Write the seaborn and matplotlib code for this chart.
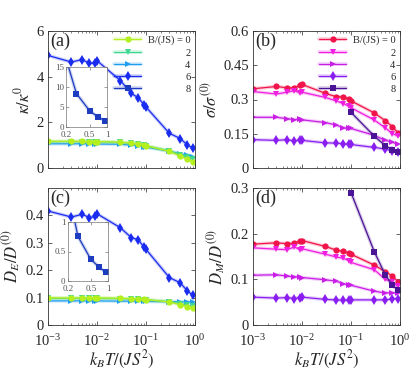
"""
    Transport coefficients vs temperature for several magnetic fields.
"""

import numpy as np
import pandas as pd
import matplotlib
matplotlib.use('Agg')
import matplotlib.pyplot as plt
import matplotlib.ticker as mtick
import matplotlib.patheffects as pe
import matplotlib.transforms as mtrans
from matplotlib.legend_handler import HandlerTuple
import seaborn as sns

# temperatures k_B T / (J S^2)
T = [1e-3, 3e-3, 5e-3, 7e-3, 9e-3, 1e-2, 3e-2, 5e-2, 7e-2, 9e-2, 1e-1, 0.3, 0.5, 0.7, 0.9]
T8 = [0.1, 0.3, 0.5, 0.7, 0.9]
fields = ['0', '2', '4', '6', '8']

# (a) kappa / kappa^0
kappa_b0 = [1.17, 1.17, 1.17, 1.16, 1.16, 1.16, 1.13, 1.09, 1.05, 1.00, 0.98, 0.73, 0.52, 0.38, 0.27]
kappa_b2 = [1.15, 1.16, 1.15, 1.15, 1.14, 1.15, 1.12, 1.08, 1.04, 1.00, 0.97, 0.75, 0.58, 0.50, 0.40]
kappa_b4 = [1.06, 1.06, 1.06, 1.06, 1.05, 1.05, 1.04, 1.00, 0.97, 0.93, 0.91, 0.74, 0.62, 0.56, 0.50]
kappa_b6 = [4.93, 4.64, 4.75, 4.58, 4.60, 4.70, 3.83, 3.27, 3.07, 2.78, 2.67, 1.52, 1.29, 1.01, 0.87]
kappa_b8 = [32.0, 8.3, 4.0, 2.4, 1.5]

# (b) sigma / sigma^(0)
sigma_b0 = [0.347, 0.357, 0.351, 0.351, 0.362, 0.366, 0.327, 0.312, 0.312, 0.302, 0.294, 0.241, 0.207, 0.181, 0.155]
sigma_b2 = [0.335, 0.324, 0.332, 0.339, 0.329, 0.332, 0.309, 0.294, 0.282, 0.271, 0.264, 0.210, 0.176, 0.151, 0.140]
sigma_b4 = [0.222, 0.222, 0.216, 0.211, 0.216, 0.211, 0.199, 0.188, 0.176, 0.173, 0.173, 0.143, 0.121, 0.113, 0.103]
sigma_b6 = [0.124, 0.121, 0.124, 0.118, 0.124, 0.121, 0.110, 0.109, 0.106, 0.103, 0.103, 0.090, 0.083, 0.075, 0.072]
sigma_b8 = [0.244, 0.139, 0.098, 0.080, 0.068]

# (c) D_E / D^(0)
de_b0 = [0.099, 0.099, 0.099, 0.099, 0.099, 0.099, 0.098, 0.096, 0.095, 0.094, 0.093, 0.084, 0.074, 0.067, 0.062]
de_b2 = [0.097, 0.097, 0.097, 0.097, 0.097, 0.097, 0.096, 0.095, 0.094, 0.093, 0.092, 0.085, 0.078, 0.072, 0.068]
de_b4 = [0.088, 0.088, 0.088, 0.088, 0.088, 0.088, 0.087, 0.087, 0.087, 0.087, 0.086, 0.085, 0.085, 0.084, 0.084]
de_b6 = [0.416, 0.394, 0.404, 0.392, 0.396, 0.406, 0.355, 0.319, 0.311, 0.285, 0.276, 0.173, 0.154, 0.124, 0.109]
de_b8 = [3.0, 0.76, 0.366, 0.229, 0.143]

# (d) D_M / D^(0)
dm_b0 = [0.177, 0.180, 0.178, 0.179, 0.183, 0.185, 0.172, 0.164, 0.161, 0.158, 0.155, 0.131, 0.117, 0.107, 0.095]
dm_b2 = [0.169, 0.166, 0.165, 0.171, 0.165, 0.167, 0.155, 0.149, 0.146, 0.141, 0.137, 0.121, 0.100, 0.094, 0.085]
dm_b4 = [0.109, 0.110, 0.107, 0.105, 0.106, 0.104, 0.099, 0.096, 0.090, 0.088, 0.087, 0.074, 0.070, 0.071, 0.069]
dm_b6 = [0.061, 0.059, 0.060, 0.058, 0.060, 0.061, 0.056, 0.055, 0.054, 0.054, 0.055, 0.055, 0.055, 0.057, 0.058]
dm_b8 = [0.290, 0.160, 0.110, 0.087, 0.077]

MARKERS = ['o', 'v', '>', 'd', 's']
MSIZES = [4.5, 4.8, 4.8, 5.2, 4.2]
COLORS_BLUE = ['#b4f01e', '#3fd890', '#1f9ef0', '#1a2cf0', '#1e3cc0']
COLORS_RED = ['#f0144a', '#f01ee0', '#c81ee6', '#8a1ef0', '#4b1496']

sns.set_theme(style="ticks")
plt.rcParams['font.family'] = ['Liberation Serif', 'DejaVu Serif']
plt.rcParams['mathtext.fontset'] = 'stix'
plt.rcParams['xtick.direction'] = 'in'
plt.rcParams['ytick.direction'] = 'in'
plt.rcParams['xtick.top'] = True
plt.rcParams['ytick.right'] = True
plt.rcParams['axes.edgecolor'] = '#333333'
plt.rcParams['axes.linewidth'] = 0.6


def to_long(x, series):
    rows = []
    for b, vals in zip(fields, series):
        for xi, yi in zip(x, vals):
            rows.append({'T': xi, 'val': yi, 'B': b})
    return pd.DataFrame(rows)


def draw_series(ax, df, colors, which):
    handles = {}
    for i in which:
        b = fields[i]
        sub = df[df['B'] == b]
        # line with a faint halo, then the markers on top
        sns.lineplot(data=sub, x='T', y='val', color=colors[i], linewidth=0.9,
                     estimator=None, sort=False, legend=False, ax=ax)
        ln = ax.lines[-1]
        ln.set_path_effects([pe.Stroke(linewidth=2.6, foreground=colors[i], alpha=0.22),
                             pe.Normal()])
        sns.lineplot(data=sub, x='T', y='val', color=colors[i], marker=MARKERS[i],
                     markersize=MSIZES[i], markeredgewidth=0, linewidth=0,
                     estimator=None, sort=False, legend=False, ax=ax)
        mk = ax.lines[-1]
        handles[i] = (ln, mk)
    return handles


def style_main(ax, ylim, yticks, ylabel, tag, show_x):
    ax.set_xscale('log')
    ax.set_xlim(1e-3, 1)
    ax.set_ylim(*ylim)
    ax.set_yticks(yticks)
    ax.yaxis.set_major_formatter(mtick.FormatStrFormatter('%g'))
    ax.xaxis.set_major_locator(mtick.LogLocator(base=10, numticks=10))
    ax.xaxis.set_minor_locator(mtick.LogLocator(base=10, subs=np.arange(2, 10), numticks=20))
    ax.xaxis.set_minor_formatter(mtick.NullFormatter())
    ax.tick_params(which='major', length=3, width=0.5, labelsize=10.5, pad=3)
    ax.tick_params(axis='x', which='major', pad=6)
    ax.tick_params(which='minor', length=1.5, width=0.4)
    ax.set_ylabel(ylabel, fontsize=12, labelpad=2)
    if show_x:
        ax.set_xlabel(r'$k_BT/(JS^2)$', fontsize=12, labelpad=0)
    else:
        ax.set_xlabel('')
        ax.tick_params(axis='x', which='both', labelbottom=False)
    ax.text(0.015, 0.985, tag, transform=ax.transAxes, ha='left', va='top', fontsize=13)


def style_inset(ax, ylim, yticks):
    ax.set_xscale('log')
    ax.set_xlim(0.2, 1)
    ax.set_ylim(*ylim)
    ax.set_xticks([0.2, 0.5, 1])
    ax.xaxis.set_major_formatter(mtick.FormatStrFormatter('%g'))
    ax.xaxis.set_minor_locator(mtick.NullLocator())
    ax.set_yticks(yticks)
    ax.yaxis.set_major_formatter(mtick.FormatStrFormatter('%g'))
    ax.tick_params(which='major', length=2, width=0.4, labelsize=6.5, pad=1.5, colors='#555555')
    ax.tick_params(axis='x', which='major', pad=3)
    for s in ax.spines.values():
        s.set_linewidth(0.5)
        s.set_edgecolor('#777777')
    ax.set_xlabel('')
    ax.set_ylabel('')


def add_legend(ax, handles):
    labels = ['B/(JS) = 0'] + fields[1:]
    leg = ax.legend(handles, labels, loc='upper right', frameon=False, fontsize=7.5,
                    handlelength=2.6, handletextpad=0.6, labelspacing=0.28,
                    borderaxespad=0.25, borderpad=0.2,
                    handler_map={tuple: HandlerTuple(ndivide=1, pad=0)})
    return leg


fig = plt.figure(figsize=(4.15, 3.76), dpi=100)
W, H = 415.0, 376.0
ax_a = fig.add_axes([48 / W, 1 - 168 / H, 147 / W, 137 / H])
ax_b = fig.add_axes([253 / W, 1 - 168 / H, 147 / W, 137 / H])
ax_c = fig.add_axes([48 / W, 1 - 325 / H, 147 / W, 137 / H])
ax_d = fig.add_axes([253 / W, 1 - 325 / H, 147 / W, 137 / H])
in_a = fig.add_axes([66 / W, 1 - 126.7 / H, 41.3 / W, 60 / H])
in_c = fig.add_axes([67.7 / W, 1 - 280.7 / H, 40.6 / W, 58.4 / H])

df_k = to_long(T, [kappa_b0, kappa_b2, kappa_b4, kappa_b6])
df_k8 = to_long(T8, [[], [], [], [], kappa_b8])
df_s = to_long(T, [sigma_b0, sigma_b2, sigma_b4, sigma_b6])
df_s8 = to_long(T8, [[], [], [], [], sigma_b8])
df_e = to_long(T, [de_b0, de_b2, de_b4, de_b6])
df_e8 = to_long(T8, [[], [], [], [], de_b8])
df_m = to_long(T, [dm_b0, dm_b2, dm_b4, dm_b6])
df_m8 = to_long(T8, [[], [], [], [], dm_b8])

# (a)
h_a = draw_series(ax_a, df_k, COLORS_BLUE, [3, 2, 1, 0])
h_a.update(draw_series(in_a, df_k8, COLORS_BLUE, [4]))
style_main(ax_a, (0, 6), [0, 2, 4, 6], r'$\kappa/\kappa^0$', '(a)', False)
style_inset(in_a, (0, 15), [0, 5, 10, 15])
leg_a = add_legend(ax_a, [h_a[i] for i in range(5)])

# (b)
h_b = draw_series(ax_b, df_s, COLORS_RED, [0, 1, 2, 3])
h_b.update(draw_series(ax_b, df_s8, COLORS_RED, [4]))
style_main(ax_b, (0, 0.6), [0, 0.15, 0.3, 0.45, 0.6], r'$\sigma/\sigma^{(0)}$', '(b)', False)
leg_b = add_legend(ax_b, [h_b[i] for i in range(5)])

# (c)
draw_series(ax_c, df_e, COLORS_BLUE, [3, 2, 1, 0])
draw_series(in_c, df_e8, COLORS_BLUE, [4])
style_main(ax_c, (0, 0.5), [0, 0.1, 0.2, 0.3, 0.4], r'$D_E/D^{(0)}$', '(c)', True)
style_inset(in_c, (0, 1), [0, 0.5, 1])

# (d)
draw_series(ax_d, df_m, COLORS_RED, [0, 1, 2, 3])
draw_series(ax_d, df_m8, COLORS_RED, [4])
style_main(ax_d, (0, 0.3), [0, 0.1, 0.2, 0.3], r'$D_M/D^{(0)}$', '(d)', True)

# right-align the legend numbers under "B/(JS) = 0"
fig.canvas.draw()
for leg in [leg_a, leg_b]:
    texts = leg.get_texts()
    x_right = texts[0].get_window_extent().x1
    for t in texts[1:]:
        bb = t.get_window_extent()
        fig.text(x_right, bb.y0, t.get_text(), transform=mtrans.IdentityTransform(),
                 ha='right', va='bottom', fontsize=7.5)
        t.set_color('none')

fig.savefig('out.png', dpi=100)
